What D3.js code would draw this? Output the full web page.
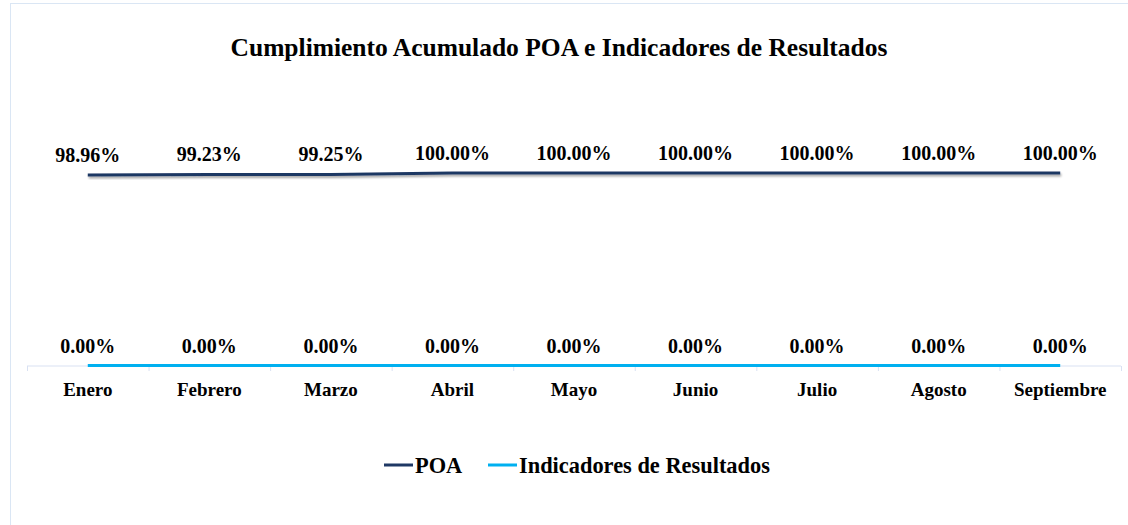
<!DOCTYPE html>
<html><head><meta charset="utf-8">
<script src="https://cdn.jsdelivr.net/npm/d3@7"></script>
<style>body{margin:0;background:#fff}svg{display:block}</style>
</head><body>
<script>
const months = ["Enero","Febrero","Marzo","Abril","Mayo","Junio","Julio","Agosto","Septiembre"];
const poa = [0.9896,0.9923,0.9925,1,1,1,1,1,1];
const indicadores = [0,0,0,0,0,0,0,0,0];
const seriesNames = ["POA","Indicadores de Resultados"];
const colors = ["#1F3864","#00B0F0"];
const title = "Cumplimiento Acumulado POA e Indicadores de Resultados";

const W=1128,H=525;
const svg=d3.select("body").append("svg").attr("width",W).attr("height",H)
  .attr("font-family","'Liberation Serif', 'Times New Roman', serif").attr("font-weight","bold");
svg.append("rect").attr("x",10.5).attr("y",3.5).attr("width",W).attr("height",H).attr("fill","#fff").attr("stroke","#DAE6F4");
const defs=svg.append("defs");
const f=defs.append("filter").attr("id","sh").attr("x","-5%").attr("y","-200%").attr("width","110%").attr("height","500%");
f.append("feDropShadow").attr("dx",1).attr("dy",2).attr("stdDeviation",1.2).attr("flood-color","#000").attr("flood-opacity",0.35);

const x=d3.scaleBand().domain(months).range([27,1121]);
const y=d3.scaleLinear().domain([0,1]).range([365.5,173]);

svg.append("text").attr("x",559).attr("y",56).attr("text-anchor","middle").attr("font-size",25.5).text(title);

const ax=svg.append("g").attr("transform","translate(0,366)");
ax.append("line").attr("x1",27).attr("x2",1121).attr("stroke","#D9E1F2");
const bounds=months.map(m=>x(m)).concat([x.range()[1]]);
ax.selectAll("line.t").data(bounds).enter().append("line").attr("class","t").attr("x1",d=>d+0.5).attr("x2",d=>d+0.5).attr("y1",0).attr("y2",5).attr("stroke","#D9E1F2");
ax.selectAll("text").data(months).enter().append("text").attr("x",d=>x(d)+x.bandwidth()/2).attr("y",30).attr("text-anchor","middle").attr("font-size",19).text(d=>d);

const line=d3.line().x((d,i)=>x(months[i])+x.bandwidth()/2).y(d=>y(d));
const data=[poa,indicadores];
data.forEach((s,k)=>{
  svg.append("path").datum(s).attr("d",line).attr("fill","none").attr("stroke",colors[k]).attr("stroke-width",3).attr("filter",k===0?"url(#sh)":null);
  svg.selectAll(null).data(s).enter().append("text")
    .attr("x",(d,i)=>x(months[i])+x.bandwidth()/2).attr("y",d=>y(d)-13)
    .attr("text-anchor","middle").attr("font-size",20)
    .text(d=>d3.format(".2%")(d));
});

const lg=svg.append("g");
const items=[{x:384,w:29,tx:415},{x:488,w:29,tx:519}];
items.forEach((it,k)=>{
  lg.append("line").attr("x1",it.x).attr("x2",it.x+it.w).attr("y1",465).attr("y2",465).attr("stroke",colors[k]).attr("stroke-width",3);
  lg.append("text").attr("x",it.tx).attr("y",473).attr("font-size",22.4).text(seriesNames[k]);
});
</script>
</body></html>
